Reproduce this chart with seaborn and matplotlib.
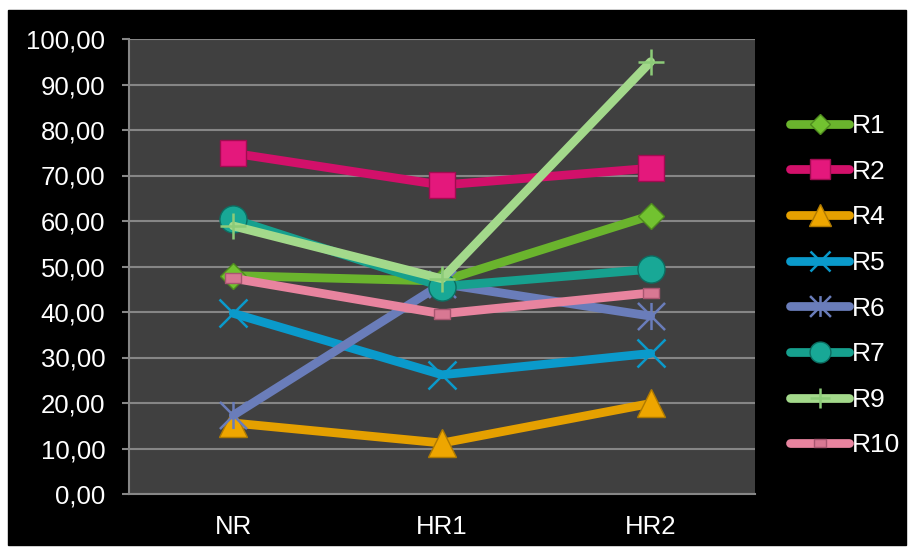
import matplotlib
matplotlib.use("Agg")
import matplotlib.pyplot as plt
from matplotlib.patches import Rectangle
from matplotlib.path import Path
import pandas as pd
import seaborn as sns

# data
categories = ["NR", "HR1", "HR2"]
series_names = ["R1", "R2", "R4", "R5", "R6", "R7", "R9", "R10"]
r1 = [48.0, 46.8, 61.2]
r2 = [74.9, 67.9, 71.6]
r4 = [15.6, 11.2, 19.9]
r5 = [39.7, 26.2, 30.9]
r6 = [17.3, 46.2, 39.1]
r7 = [60.4, 45.6, 49.4]
r9 = [58.9, 47.3, 95.0]
r10 = [47.4, 39.6, 44.2]
y_ticks = [0, 10, 20, 30, 40, 50, 60, 70, 80, 90, 100]

values = [r1, r2, r4, r5, r6, r7, r9, r10]
df = pd.DataFrame({
    "cat": categories * len(series_names),
    "value": [v for vals in values for v in vals],
    "series": [s for s in series_names for _ in categories],
})

# custom marker shapes
star_path = Path([(0, -1), (0, 1), (-1, -1), (1, 1), (-1, 1), (1, -1)],
                 [Path.MOVETO, Path.LINETO, Path.MOVETO, Path.LINETO, Path.MOVETO, Path.LINETO])
rect_path = Path([(-1, -0.6), (1, -0.6), (1, 0.6), (-1, 0.6), (-1, -0.6)],
                 [Path.MOVETO, Path.LINETO, Path.LINETO, Path.LINETO, Path.CLOSEPOLY])

styles = {
    "R1": dict(color="#6ab42d", marker="D", ms=13.5, mfc="#72c230", mec="#4e8a1e", mew=1),
    "R2": dict(color="#d2106a", marker="s", ms=19, mfc="#e4187c", mec="#a00c50", mew=1),
    "R4": dict(color="#e5a000", marker="^", ms=20, mfc="#eea600", mec="#b07a00", mew=1),
    "R5": dict(color="#0a9acb", marker="x", ms=19.5, mfc="#0a9acb", mec="#0a9acb", mew=1.8),
    "R6": dict(color="#6a7dba", marker=star_path, ms=19.5, mfc="#6a7dba", mec="#6a7dba", mew=1.8),
    "R7": dict(color="#16a08e", marker="o", ms=19.5, mfc="#18a896", mec="#0c6e62", mew=1),
    "R9": dict(color="#a3d98b", marker="+", ms=19, mfc="#8ccb78", mec="#8ccb78", mew=1.8),
    "R10": dict(color="#e8849f", marker=rect_path, ms=11, mfc="#d87893", mec="#a85670", mew=1),
}

sns.set_style("dark", rc={"axes.facecolor": "#404040"})
plt.rcParams["font.family"] = ["Liberation Sans", "DejaVu Sans"]

fig = plt.figure(figsize=(9.16, 5.51), dpi=100, facecolor="white")
fig.patches.append(Rectangle((8 / 916, 6 / 551), 898 / 916, 535 / 551,
                             transform=fig.transFigure, color="black", zorder=-10))
ax = fig.add_axes([129 / 916, 57 / 551, 626 / 916, 455 / 551])
ax.set_facecolor("#404040")

for name in series_names:
    st = styles[name]
    sns.lineplot(data=df[df.series == name], x="cat", y="value", ax=ax,
                 color=st["color"], lw=6.3, marker=st["marker"], ms=st["ms"],
                 mfc=st["mfc"], mec=st["mec"], mew=st["mew"],
                 errorbar=None, sort=False, legend=False,
                 solid_capstyle="round")

grid_c = "#868686"
ax.set_ylim(0, 100)
ax.set_yticks(y_ticks)
ax.set_yticklabels([f"{t:.2f}".replace(".", ",") for t in y_ticks])
ax.yaxis.grid(True, color=grid_c, lw=1.5)
ax.xaxis.grid(False)
ax.set_axisbelow(True)

ax.set_xlim(-0.5, 2.5)
ax.set_xticks([0, 1, 2])
ax.set_xticklabels(categories)
ax.set_xticks([-0.5, 0.5, 1.5, 2.5], minor=True)
ax.tick_params(axis="x", which="major", length=0, pad=15, labelsize=18.5, labelcolor="white")
ax.tick_params(axis="x", which="minor", length=5, width=1.5, color=grid_c, direction="out")
ax.tick_params(axis="y", length=5, width=1.5, color=grid_c, direction="out",
               pad=12, labelsize=18.5, labelcolor="white", left=True)
ax.set_xlabel("")
ax.set_ylabel("")

for side in ["top", "right"]:
    ax.spines[side].set_visible(False)
for side in ["left", "bottom"]:
    ax.spines[side].set_color(grid_c)
    ax.spines[side].set_linewidth(1.5)

handles = ax.lines[-len(series_names):]
ax.legend(handles, series_names, loc="upper left",
          bbox_to_anchor=(790 / 916, 1 - 114 / 551), bbox_transform=fig.transFigure,
          frameon=False, fontsize=19, labelcolor="white", handlelength=2.25,
          handletextpad=0.1, labelspacing=0.82, borderpad=0, borderaxespad=0,
          markerscale=0.77)

fig.savefig("out.png", dpi=100, facecolor="white")
